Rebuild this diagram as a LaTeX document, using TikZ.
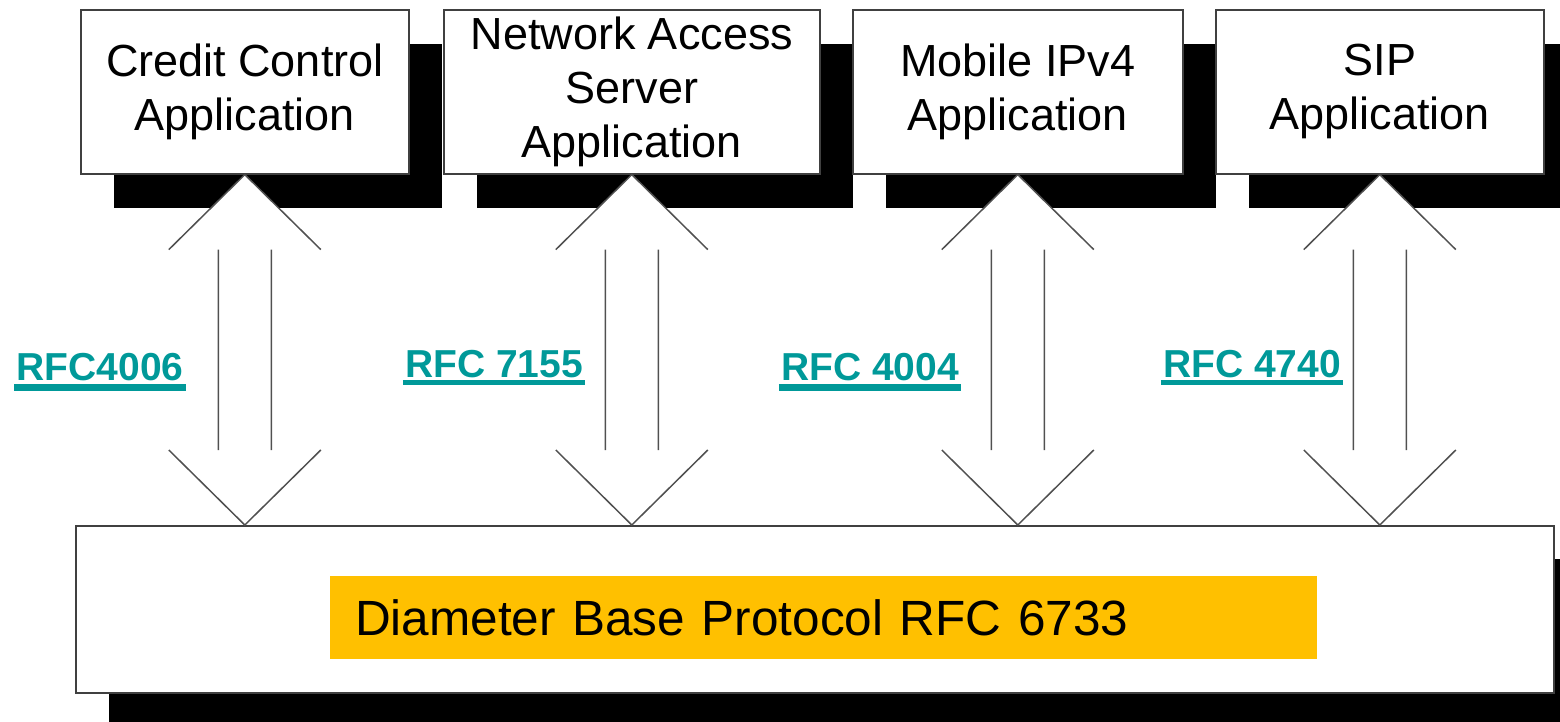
\documentclass[tikz,border=0pt]{standalone}
\usepackage{fontspec}
\setmainfont{Liberation Sans}
\usetikzlibrary{calc,shadows}

\definecolor{rfcteal}{RGB}{0,153,153}
\definecolor{baseorange}{RGB}{255,192,0}
\definecolor{edgegray}{RGB}{64,64,64}
\definecolor{arrowgray}{RGB}{80,80,80}

\tikzset{
  appbox/.style={draw=edgegray, line width=1.6pt, fill=white, anchor=north west,
    minimum height=164pt, inner sep=0pt, align=center,
    font=\fontsize{45}{54}\selectfont,
    general shadow={fill=black, shadow xshift=33pt, shadow yshift=-34pt}},
  basebox/.style={draw=edgegray, line width=1.6pt, fill=white, anchor=north west,
    minimum width=1478pt, minimum height=167pt, inner sep=0pt,
    general shadow={fill=black, shadow xshift=33pt, shadow yshift=-33pt}},
  corebar/.style={fill=baseorange, anchor=north west, minimum height=83pt,
    text width=937pt, inner xsep=25pt, inner ysep=0pt, align=left,
    font=\fontsize{49.5}{60}\selectfont},
  rfclabel/.style={text=rfcteal, anchor=base, inner sep=0pt,
    font=\fontsize{39}{47}\selectfont\bfseries},
  rfcline/.style={draw=rfcteal, line width=#1},
  arrowline/.style={draw=arrowgray, line width=1.5pt, line join=miter},
}

\begin{document}
\begin{tikzpicture}[x=1pt, y=-1pt]
  \useasboundingbox (0,0) rectangle (1560,722);
  \clip (0,0) rectangle (1560,722);

  % application boxes
  \node[appbox, minimum width=328pt] (cc)  at (80,9)   {Credit Control\\Application};
  \node[appbox, minimum width=376pt] (nas) at (443,9)  {Network Access\\Server\\Application};
  \node[appbox, minimum width=330pt] (mip) at (852,9)  {Mobile IPv4\\Application};
  \node[appbox, minimum width=328pt] (sip) at (1215,9) {SIP\\Application};

  % base protocol layer
  \node[basebox] (base) at (75,525) {};
  \node[corebar] (core) at (330,576) {Diameter Base Protocol RFC 6733};

  % two-way block arrows between each application and the base layer
  \foreach \app in {cc,nas,mip,sip}{
    \path (\app.south) coordinate (hi) (\app.south |- base.north) coordinate (lo);
    \fill[white] (hi) -- ($(hi)+(-76,75)$) -- ($(hi)+(-26.5,75)$)
      -- ($(lo)+(-26.5,-75)$) -- ($(lo)+(-76,-75)$) -- (lo)
      -- ($(lo)+(76,-75)$) -- ($(lo)+(26.5,-75)$)
      -- ($(hi)+(26.5,75)$) -- ($(hi)+(76,75)$) -- cycle;
    \draw[arrowline] ($(hi)+(-76,75)$) -- (hi) -- ($(hi)+(76,75)$)
      ($(hi)+(-26.5,75)$) -- ($(lo)+(-26.5,-75)$)
      ($(hi)+(26.5,75)$) -- ($(lo)+(26.5,-75)$)
      ($(lo)+(-76,-75)$) -- (lo) -- ($(lo)+(76,-75)$);
  }

  % RFC references
  \node[rfclabel] (r1) at (100,380) {RFC4006};
  \node[rfclabel] (r2) at (494,377) {RFC 7155};
  \node[rfclabel] (r3) at (870,380) {RFC 4004};
  \node[rfclabel] (r4) at (1252,377) {RFC 4740};
  \draw[rfcline=7pt] ($(r1.base west)+(-2,7)$) -- ($(r1.base east)+(2,7)$);
  \draw[rfcline=5pt] ($(r2.base west)+(-2,5.5)$) -- ($(r2.base east)+(2,5.5)$);
  \draw[rfcline=7pt] ($(r3.base west)+(-2,7)$) -- ($(r3.base east)+(2,7)$);
  \draw[rfcline=5pt] ($(r4.base west)+(-2,5.5)$) -- ($(r4.base east)+(2,5.5)$);
\end{tikzpicture}
\end{document}
